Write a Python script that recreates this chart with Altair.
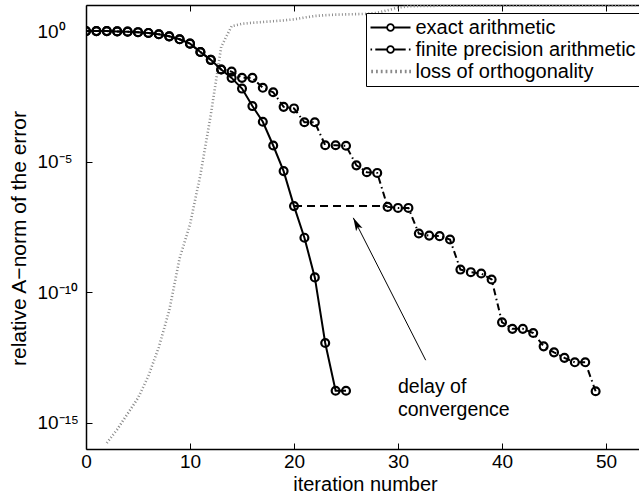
import altair as alt
import pandas as pd

FONT = "Liberation Sans"

# ---------------- data (log10 of the relative A-norm of the error) ----------------
series_names = ["exact arithmetic", "finite precision arithmetic", "loss of orthogonality"]

exact_iter = list(range(26))
exact_exp = [0.0, 0.0, 0.0, -0.01, -0.02, -0.04, -0.07, -0.12, -0.2, -0.31,
             -0.48, -0.8, -1.1, -1.47, -1.79, -2.2, -2.87, -3.47, -4.38, -5.36,
             -6.7, -7.91, -9.43, -11.94, -13.77, -13.77]

finite_iter = list(range(50))
finite_exp = [0.0, 0.0, 0.0, -0.01, -0.02, -0.04, -0.07, -0.12, -0.2, -0.31,
              -0.48, -0.8, -1.1, -1.47, -1.55, -1.79, -1.79, -2.17, -2.34, -2.9,
              -2.96, -3.49, -3.49, -4.37, -4.37, -4.39, -5.14, -5.4, -5.43, -6.73,
              -6.77, -6.77, -7.75, -7.83, -7.85, -7.98, -9.13, -9.23, -9.28, -9.51,
              -11.15, -11.4, -11.4, -11.56, -12.07, -12.3, -12.51, -12.68, -12.68, -13.79]

loss_iter = [2, 3, 4, 5, 6, 7, 8, 9, 10, 11, 12, 13, 14, 15, 16, 17, 18, 19, 20, 21,
             22, 23, 24, 25, 26, 27, 28, 29, 30, 31, 32, 34, 37, 40, 45, 50, 53]
loss_exp = [-15.77, -15.25, -14.65, -14.05, -13.2, -12.1, -10.7, -8.7, -7.4, -5.5,
            -3.2, -0.6, 0.19, 0.28, 0.32, 0.35, 0.38, 0.41, 0.45, 0.52,
            0.58, 0.61, 0.63, 0.64, 0.65, 0.66, 0.7, 0.8, 0.9, 0.95,
            0.96, 0.97, 0.975, 0.98, 0.98, 0.985, 0.99]

delay_iter = [20, 29]
delay_exp = [-6.70, -6.70]

arrow_tail = [32.66, -12.6]
arrow_tip = [25.7, -7.15]
arrow_angle = 333

note_text = "delay of\nconvergence"
note_pos = [30.0, -13.84]

x_ticks = [0, 10, 20, 30, 40, 50]
y_tick_exp = [0, -5, -10, -15]
y_tick_text = ["10⁰", "10⁻⁵", "10⁻¹⁰", "10⁻¹⁵"]

# ---------------- tables ----------------
def frame(iters, exps, name):
    return pd.DataFrame({"iter": iters, "val": [10.0 ** e for e in exps], "series": name})

exact_df = frame(exact_iter, exact_exp, series_names[0])
finite_df = frame(finite_iter, finite_exp, series_names[1])
loss_df = frame(loss_iter, loss_exp, series_names[2])
all_df = pd.concat([exact_df, finite_df, loss_df], ignore_index=True)
delay_df = frame(delay_iter, delay_exp, "delay")
arrow_df = pd.DataFrame({"iter": [arrow_tail[0]], "val": [10.0 ** arrow_tail[1]],
                         "iter2": [arrow_tip[0]], "val2": [10.0 ** arrow_tip[1]]})
tip_df = pd.DataFrame({"iter": [arrow_tip[0]], "val": [10.0 ** arrow_tip[1]]})
note_df = pd.DataFrame({"iter": [note_pos[0]], "val": [10.0 ** note_pos[1]], "txt": [note_text]})

# ---------------- scales & axes ----------------
xscale = alt.Scale(domain=[0, 53.17], nice=False, zero=False)
yscale = alt.Scale(type="log", domain=[1e-16, 10], nice=False)

label_expr = " : ".join(
    f"abs(log(datum.value)/LN10 - ({e})) < 0.01 ? '{t}'" for e, t in zip(y_tick_exp, y_tick_text)
) + " : ''"

ax_x_main = alt.Axis(orient="bottom", values=x_ticks, format="d", ticks=False, tickSize=0,
                     domain=True, domainColor="black", domainWidth=1.5, grid=False,
                     labelFont=FONT, labelFontSize=19, labelColor="black", labelPadding=3.5,
                     labelFlush=False,
                     title="iteration number", titleFont=FONT, titleFontSize=20,
                     titleFontWeight="normal", titleColor="black", titleX=279, titleY=41,
                     titleBaseline="alphabetic", titleAlign="center")
ax_x_ticks = alt.Axis(orient="bottom", offset=-6, values=x_ticks, ticks=True, tickSize=6,
                      tickColor="black", tickWidth=1, domain=False, labels=False, grid=False,
                      title=None)
ax_x_top = alt.Axis(orient="top", domain=True, domainColor="black", domainWidth=1.5,
                    ticks=False, labels=False, grid=False, title=None)
ax_x_top_ticks = alt.Axis(orient="top", offset=-6, values=x_ticks, ticks=True, tickSize=6,
                          tickColor="black", tickWidth=1, domain=False, labels=False,
                          grid=False, title=None)
ax_y_main = alt.Axis(orient="left", values=[10.0 ** e for e in y_tick_exp], ticks=False,
                     tickSize=0, domain=True, domainColor="black", domainWidth=1.5, grid=False,
                     labelExpr=label_expr, labelAlign="left", labelBaseline="middle",
                     labelPadding=49, labelFont=FONT, labelFontSize=19, labelColor="black",
                     labelFlush=False, labelOverlap=False,
                     title="relative A−norm of the error", titleFont=FONT, titleFontSize=21,
                     titleFontWeight="normal", titleColor="black", titleX=-61, titleY=233,
                     titleAngle=270, titleBaseline="alphabetic", titleAlign="center")
ax_y_ticks = alt.Axis(orient="left", offset=-6, values=[10.0 ** e for e in y_tick_exp],
                      ticks=True, tickSize=6, tickColor="black", tickWidth=1, domain=False,
                      labels=False, grid=False, title=None)


def X(field="iter:Q", axis=None):
    return alt.X(field, scale=xscale, axis=axis)


def Y(field="val:Q", axis=None):
    return alt.Y(field, scale=yscale, axis=axis)


# ---------------- layers ----------------
loss_line = alt.Chart(loss_df).mark_line(
    color="#8a8a8a", strokeWidth=2.6, strokeDash=[1, 2.3], clip=True
).encode(x=X(axis=ax_x_top), y=Y())

exact_line = alt.Chart(exact_df).mark_line(
    color="black", strokeWidth=2, clip=True
).encode(x=X(axis=ax_x_main), y=Y(axis=ax_y_main))

exact_pts = alt.Chart(exact_df).mark_point(
    shape="circle", filled=False, size=62, stroke="black", strokeWidth=2.2, opacity=1, clip=True
).encode(x=X(), y=Y())

finite_line = alt.Chart(finite_df).mark_line(
    color="black", strokeWidth=2, strokeDash=[7, 3.5, 1.5, 3.5], clip=True
).encode(x=X(axis=ax_x_ticks), y=Y(axis=ax_y_ticks))

finite_pts = alt.Chart(finite_df).mark_point(
    shape="circle", filled=False, size=62, stroke="black", strokeWidth=2.2, opacity=1, clip=True
).encode(x=X(), y=Y())

delay_line = alt.Chart(delay_df).mark_line(
    color="black", strokeWidth=2, strokeDash=[8, 5]
).encode(x=X(axis=ax_x_top_ticks), y=Y())

arrow_line = alt.Chart(arrow_df).mark_rule(color="black", strokeWidth=1).encode(
    x=X(), y=Y(), x2="iter2:Q", y2="val2:Q"
)

ARROW_PATH = "M0,0L0.6,2.2L0,1.7L-0.6,2.2Z"
arrow_head = alt.Chart(tip_df).mark_point(
    shape=ARROW_PATH, filled=True, color="black", size=144, angle=arrow_angle,
    opacity=1, strokeWidth=0
).encode(x=X(), y=Y())

note = alt.Chart(note_df).mark_text(
    align="left", baseline="alphabetic", font=FONT, fontSize=19.5, color="black",
    lineBreak="\n", lineHeight=23
).encode(x=X(), y=Y(), text="txt:N")

# legend symbols drawn as custom paths (unit = 8 px)
circ = "M0.42,0A0.42,0.42,0,1,1,-0.42,0A0.42,0.42,0,1,1,0.42,0Z"
sym_exact = "M-2.5,0H-0.42M0.42,0H2.5" + circ
sym_finite = "M-2.5,0H-2.3M-1.9,0H-0.42M0.42,0H1.9M2.3,0H2.5" + circ
sym_loss = "".join(f"M{x:.2f},-0.22V0.22" for x in [-2.3, -1.7, -1.1, -0.5, 0.1, 0.7, 1.3, 1.9, 2.45])

legend_props = dict(
    title=None, orient="none", legendX=280, legendY=8, fillColor="white",
    strokeColor="black", padding=4.5, cornerRadius=0, labelFont=FONT,
    labelFontSize=20, labelColor="black", labelLimit=400, labelOffset=15,
    symbolOffset=10, symbolSize=256, symbolStrokeWidth=1.8, symbolOpacity=1,
    rowPadding=2,
)

legend_layer = alt.Chart(all_df).mark_point(opacity=0, filled=False, strokeWidth=1.8).encode(
    x=X(), y=Y(),
    shape=alt.Shape("series:N", scale=alt.Scale(domain=series_names,
                                                range=[sym_exact, sym_finite, sym_loss]),
                    legend=alt.Legend(**legend_props)),
    stroke=alt.Stroke("series:N", scale=alt.Scale(domain=series_names,
                                                  range=["black", "black", "#8a8a8a"]),
                      legend=alt.Legend(**legend_props)),
)

chart = alt.layer(
    loss_line, exact_line, exact_pts, finite_line, finite_pts, delay_line,
    arrow_line, arrow_head, note, legend_layer
).resolve_axis(x="independent", y="independent").properties(
    width=553, height=444,
    padding={"left": 86, "top": 5, "right": 0, "bottom": 46},
    autosize=alt.AutoSizeParams(type="none"),
).configure_view(stroke=None)

chart.save("out.html", embed_options={"renderer": "svg", "actions": False})
